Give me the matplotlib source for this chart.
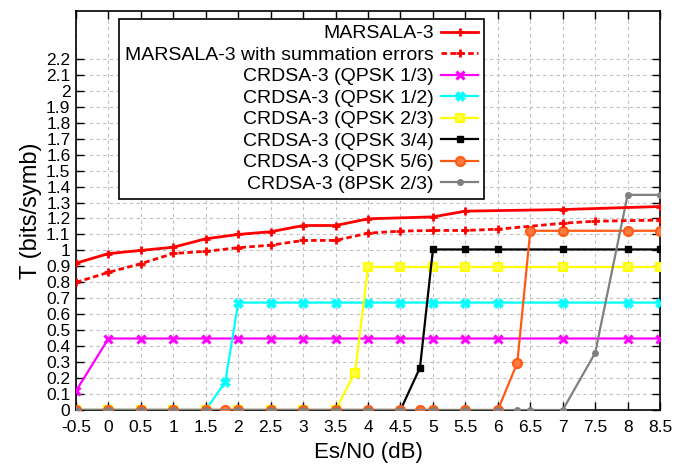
import matplotlib
matplotlib.use('Agg')
import matplotlib.pyplot as plt
from matplotlib.ticker import FixedLocator

plt.rcParams['font.family'] = ['Liberation Sans', 'DejaVu Sans']

# MARSALA-3
x_mar = [-0.5, 0, 0.5, 1, 1.5, 2, 2.5, 3, 3.5, 4, 5, 5.5, 7, 8.5]
t_mar = [0.92, 0.98, 1.0, 1.02, 1.073, 1.10, 1.117, 1.156, 1.156, 1.198, 1.21, 1.246, 1.256, 1.275]

# MARSALA-3 with summation errors
x_mse = [-0.5, 0, 0.5, 1, 1.5, 2, 2.5, 3, 3.5, 4, 4.5, 5, 5.5, 6, 7, 7.5, 8.5]
t_mse = [0.80, 0.8625, 0.917, 0.981, 0.994, 1.017, 1.033, 1.0625, 1.0625, 1.108,
         1.121, 1.125, 1.125, 1.133, 1.17, 1.183, 1.19]

# CRDSA-3 curves
x_q13 = [-0.5, 0, 0.5, 1, 1.5, 2, 2.5, 3, 3.5, 4, 4.5, 5, 5.5, 6, 7, 8, 8.5]
t_q13 = [0.12] + [0.448] * 16

x_q12 = [-0.5, 0, 0.5, 1, 1.5, 1.8, 2, 2.5, 3, 3.5, 4, 4.5, 5, 5.5, 6, 7, 8, 8.5]
t_q12 = [0, 0, 0, 0, 0, 0.177] + [0.673] * 12

x_q23 = [-0.5, 0, 0.5, 1, 1.5, 2, 2.5, 3, 3.5, 3.8, 4, 4.5, 5, 5.5, 6, 7, 8, 8.5]
t_q23 = [0] * 9 + [0.235] + [0.896] * 8

x_q34 = [-0.5, 0, 0.5, 1, 1.5, 2, 2.5, 3, 3.5, 4, 4.5, 4.8, 5, 5.5, 6, 7, 8, 8.5]
t_q34 = [0] * 11 + [0.265] + [1.006] * 6

x_q56 = [-0.5, 0, 0.5, 1, 1.5, 1.8, 2, 2.5, 3, 3.5, 4, 4.5, 4.8, 5, 5.5, 6, 6.3, 6.5, 7, 8, 8.5]
t_q56 = [0] * 16 + [0.296] + [1.123] * 4

x_8p = [-0.5, 0, 0.5, 1, 1.5, 2, 2.5, 3, 3.5, 4, 4.5, 5, 5.5, 6, 6.3, 6.5, 7, 7.5, 8, 8.5]
t_8p = [0] * 17 + [0.358, 1.348, 1.348]

xticks = [-0.5, 0, 0.5, 1, 1.5, 2, 2.5, 3, 3.5, 4, 4.5, 5, 5.5, 6, 6.5, 7, 7.5, 8, 8.5]
yticks = [round(0.1 * i, 1) for i in range(23)]

fig = plt.figure(figsize=(6.77, 4.68), dpi=100)
ax = fig.add_axes([0.1123, 0.1239, 0.8627, 0.8526])

ax.plot(x_mar, t_mar, color='#ff0000', lw=2, marker='+', ms=6, mew=2,
        label='MARSALA-3', zorder=5)
ax.plot(x_mse, t_mse, color='#ff0000', lw=2, ls=(0, (2, 1.2)), marker='+', ms=6, mew=2,
        label='MARSALA-3 with summation errors', zorder=5)
ax.plot(x_q13, t_q13, color='#ff00ff', lw=1.6, marker='x', ms=6, mew=2.2,
        label='CRDSA-3 (QPSK 1/3)', zorder=3)
ax.plot(x_q12, t_q12, color='#00ffff', lw=1.6, marker='X', ms=7, mew=0.5,
        label='CRDSA-3 (QPSK 1/2)', zorder=3)
ax.plot(x_q23, t_q23, color='#ffff00', lw=1.6, marker='s', ms=6, mfc='#ffff40', mew=1.5,
        label='CRDSA-3 (QPSK 2/3)', zorder=3)
ax.plot(x_q34, t_q34, color='#000000', lw=1.6, marker='s', ms=5,
        label='CRDSA-3 (QPSK 3/4)', zorder=3)
ax.plot(x_q56, t_q56, color='#ff5a14', lw=1.6, marker='o', ms=6.5, mfc='#ff7a40', mew=1.5,
        label='CRDSA-3 (QPSK 5/6)', zorder=3)
ax.plot(x_8p, t_8p, color='#808080', lw=1.6, marker='o', ms=4,
        label='CRDSA-3 (8PSK 2/3)', zorder=3)

ax.set_xlim(-0.5, 8.5)
ax.set_ylim(0, 2.5)
ax.xaxis.set_major_locator(FixedLocator(xticks))
ax.yaxis.set_major_locator(FixedLocator(yticks))
ax.set_xticklabels([('%g' % v) for v in xticks])
ax.set_yticklabels([('%g' % v) for v in yticks])
ax.tick_params(direction='in', length=6, width=1, top=True, right=True,
               labelsize=12.5)
ax.tick_params(axis='x', pad=7)
ax.tick_params(axis='y', pad=4)
ax.grid(True, color='#c0c0c0', ls=(0, (3, 3)), lw=0.8)
ax.set_axisbelow(True)
for s in ax.spines.values():
    s.set_linewidth(1.2)

ax.set_xlabel('Es/N0 (dB)', fontsize=16, labelpad=5)
ax.set_ylabel('T (bits/symb)', fontsize=17, labelpad=3)

leg = ax.legend(loc='upper right', bbox_to_anchor=(0.699, 0.980), borderaxespad=0,
                markerfirst=False, fontsize=14, labelspacing=0.2, borderpad=0.3,
                handlelength=1.9, handletextpad=0.4, fancybox=False, framealpha=1,
                edgecolor='black')
leg.get_frame().set_linewidth(1.2)
leg.set_zorder(10)

fig.savefig('out.png', dpi=100)
